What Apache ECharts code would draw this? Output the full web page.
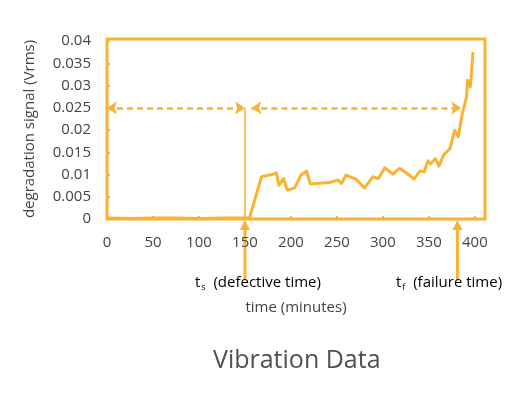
<!DOCTYPE html>
<html>
<head>
<meta charset="utf-8">
<script src="https://cdn.jsdelivr.net/npm/echarts@6/dist/echarts.min.js"></script>
<style>
  html, body { margin: 0; padding: 0; background: #fff; }
  #chart { width: 524px; height: 398px; }
</style>
</head>
<body>
<div id="chart"></div>
<script>
// time in minutes and rms level
const times = [0, 25, 50, 75, 100, 125, 150, 155, 168, 181, 184, 187, 192, 196, 204, 211, 217, 221, 228, 242,
  251, 255, 260, 271, 280, 289, 295, 302, 311, 318, 326, 334, 340, 345, 349, 352, 357, 361, 366, 373,
  378, 382, 386, 391, 392, 395, 398]
const values = [0.0002, 0.0001, 0.0002, 0.0002, 0.0001, 0.0002, 0.0002, 0.0003, 0.0095, 0.0101, 0.0104, 0.0076,
  0.0091, 0.0065, 0.0070, 0.0099, 0.0108, 0.0079, 0.0080, 0.0082, 0.0088, 0.0080, 0.0099, 0.0089, 0.0070,
  0.0095, 0.0091, 0.0115, 0.0101, 0.0114, 0.0103, 0.0090, 0.0108, 0.0106, 0.0131, 0.0124, 0.0136, 0.0119,
  0.0144, 0.0159, 0.0200, 0.0185, 0.0234, 0.0275, 0.0312, 0.0297, 0.0376]

const xTicks = [0, 50, 100, 150, 200, 250, 300, 350, 400]
const yTicks = ['0', '0.005', '0.01', '0.015', '0.02', '0.025', '0.03', '0.035', '0.04']

const defectTime = 150
const failureTime = 381
const arrowLevel = 0.025

const orange = '#fab232'
const textColor = '#444'
const font = 'Open Sans'

const chart = echarts.init(document.getElementById('chart'))

function tickLabel(list) {
  return (value) => {
    const s = String(+value.toFixed(4))
    return list.map(String).includes(s) ? s : ''
  }
}

chart.setOption({
  animation: false,
  textStyle: { fontFamily: font },
  title: {
    text: 'Vibration Data',
    left: 208,
    top: 343,
    textStyle: { fontFamily: font, fontSize: 25, fontWeight: 'normal', color: '#505050' }
  },
  grid: {
    left: 107, right: 39, top: 39, bottom: 179,
    show: true,
    borderColor: orange,
    borderWidth: 3
  },
  xAxis: {
    type: 'value',
    min: 0,
    max: 411,
    interval: 50,
    name: 'time (minutes)',
    nameLocation: 'middle',
    nameGap: 81,
    nameTextStyle: { fontFamily: font, fontSize: 15, color: textColor },
    axisLine: { show: false },
    axisTick: { show: true, inside: true, length: 3, lineStyle: { color: orange, width: 2 } },
    splitLine: { show: false },
    axisLabel: {
      margin: 16, fontSize: 15, color: textColor, fontFamily: font,
      showMaxLabel: false,
      formatter: tickLabel(xTicks)
    }
  },
  yAxis: {
    type: 'value',
    min: 0,
    max: 0.0405,
    interval: 0.005,
    name: 'degradation signal (Vrms)',
    nameLocation: 'middle',
    nameGap: 70,
    nameTextStyle: { fontFamily: font, fontSize: 15, color: textColor },
    axisLine: { show: false },
    axisTick: { show: true, inside: true, length: 3, lineStyle: { color: orange, width: 2 } },
    splitLine: { show: false },
    axisLabel: {
      margin: 16, fontSize: 15, color: textColor, fontFamily: font,
      showMaxLabel: false,
      formatter: tickLabel(yTicks)
    }
  },
  series: [
    {
      type: 'line',
      data: times.map((t, i) => [t, values[i]]),
      showSymbol: false,
      clip: false,
      lineStyle: { color: orange, width: 3, join: 'round' },
      markLine: {
        silent: true,
        symbol: ['arrow', 'arrow'],
        symbolSize: [10, 10],
        label: { show: false },
        lineStyle: { color: orange, width: 2.5, type: [6, 4] },
        data: [
          [{ coord: [0, arrowLevel] }, { coord: [defectTime, arrowLevel] }],
          [{ coord: [defectTime + 7, arrowLevel] }, { coord: [failureTime + 4, arrowLevel] }],
          [
            { coord: [defectTime, arrowLevel], symbol: 'none', lineStyle: { type: 'solid', width: 1.5 } },
            { coord: [defectTime, 0], symbol: 'none' }
          ]
        ]
      }
    }
  ]
})

// up arrows under the axis, placed through the x scale
function upArrow(t) {
  const x = chart.convertToPixel({ xAxisIndex: 0 }, t)
  return [
    { type: 'line', shape: { x1: x, y1: 280, x2: x, y2: 228 }, style: { stroke: orange, lineWidth: 3 }, silent: true },
    { type: 'polygon', shape: { points: [[x - 5, 230], [x + 5, 230], [x, 220]] }, style: { fill: orange }, silent: true }
  ]
}

const rich = {
  t: { fontFamily: font, fontSize: 15, color: textColor },
  s: { fontFamily: font, fontSize: 9, color: textColor, padding: [9, 0, 0, 1] }
}

chart.setOption({
  graphic: [
    ...upArrow(defectTime),
    ...upArrow(failureTime),
    {
      type: 'text', left: 195, top: 275, silent: true,
      style: { text: '{t|t}{s|s}{t|  (defective time)}', rich: rich }
    },
    {
      type: 'text', left: 396, top: 275, silent: true,
      style: { text: '{t|t}{s|f}{t|  (failure time)}', rich: rich }
    }
  ]
})

window.addEventListener('resize', () => chart.resize())
</script>
</body>
</html>
